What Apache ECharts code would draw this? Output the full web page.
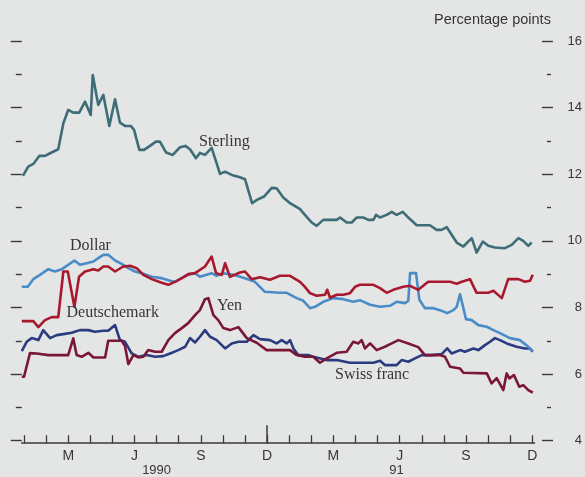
<!DOCTYPE html>
<html><head><meta charset="utf-8">
<script src="https://cdn.jsdelivr.net/npm/echarts@6/dist/echarts.min.js"></script>
<style>html,body{margin:0;padding:0;background:#e4e6e5;}#c{width:585px;height:477px;}</style>
</head><body><div id="c"></div>
<script>
// x values are months since Jan 1990 (0 = Jan 1990, 23 = Dec 1991)
const monthTicks = [0,1,2,3,4,5,6,7,8,9,10,11,12,13,14,15,16,17,18,19,20,21,22,23];
const monthLabels = ['M','J','S','D','M','J','S','D'];
const monthLabelPos = [2,5,8,11,14,17,20,23];
const yearLabels = ['1990','91'];
const yearLabelPos = [6.0,16.86];
const yTickLabels = [4,6,8,10,12,14,16];

const sterlingX = [-0.05,0.19,0.42,0.69,0.95,1.18,1.55,1.78,2.00,2.23,2.50,2.76,3.02,3.11,3.36,3.59,3.86,4.12,4.34,4.57,4.83,4.98,5.22,5.43,5.70,5.97,6.15,6.43,6.73,7.06,7.30,7.51,7.78,7.96,8.19,8.49,8.87,9.10,9.40,9.77,10.00,10.32,10.54,10.86,11.21,11.43,11.73,12.04,12.49,12.71,13.02,13.24,13.54,14.15,14.30,14.60,14.83,15.05,15.35,15.58,15.81,15.93,16.11,16.41,16.64,16.86,17.14,17.39,17.77,18.37,18.67,18.90,19.13,19.58,19.88,20.26,20.48,20.76,21.01,21.31,21.76,22.07,22.37,22.59,22.82,22.97];
const sterlingY = [11.95,12.23,12.31,12.55,12.55,12.63,12.75,13.53,13.93,13.85,13.85,14.18,13.78,14.98,14.08,14.38,13.45,14.25,13.55,13.45,13.45,13.33,12.73,12.73,12.85,12.98,12.98,12.65,12.58,12.81,12.85,12.75,12.48,12.64,12.58,12.79,12.01,12.08,11.98,11.91,11.85,11.13,11.23,11.33,11.59,11.58,11.30,11.13,10.95,10.78,10.55,10.45,10.63,10.63,10.70,10.55,10.55,10.70,10.70,10.63,10.63,10.78,10.70,10.78,10.87,10.78,10.87,10.70,10.47,10.47,10.33,10.33,10.41,9.95,9.83,10.08,9.65,9.98,9.85,9.80,9.78,9.88,10.08,10.00,9.85,9.95];

const dollarX = [-0.1,0.17,0.42,0.72,1.10,1.40,1.71,2.00,2.28,2.53,2.84,3.14,3.36,3.59,3.81,4.12,4.42,4.72,5.02,5.40,5.78,6.23,6.61,6.83,7.14,7.43,7.74,7.96,8.49,8.72,9.02,9.47,10.0,10.45,10.90,11.58,11.89,12.34,12.64,12.94,13.17,13.54,14.0,14.45,14.90,15.20,15.66,16.11,16.56,16.86,17.24,17.39,17.47,17.74,17.89,18.14,18.52,18.82,19.15,19.43,19.58,19.73,20.0,20.26,20.56,20.94,21.24,21.54,21.99,22.44,22.67,22.90,23.0];
const dollarY = [8.62,8.62,8.85,8.98,9.15,9.08,9.15,9.28,9.41,9.28,9.33,9.38,9.48,9.58,9.58,9.41,9.31,9.18,9.08,9.01,8.92,8.88,8.80,8.77,8.88,8.98,9.03,8.92,9.03,8.95,9.03,8.98,8.88,8.77,8.47,8.44,8.44,8.28,8.20,7.98,8.02,8.17,8.28,8.25,8.17,8.22,8.08,8.02,8.05,8.17,8.13,8.20,9.03,9.03,8.23,7.98,7.98,7.92,7.83,7.92,8.02,8.40,7.65,7.62,7.47,7.42,7.32,7.23,7.08,7.02,6.90,6.77,6.67];

const dmarkX = [-0.1,0.42,0.65,0.95,1.25,1.55,1.78,1.98,2.28,2.49,2.76,3.14,3.36,3.59,3.81,4.12,4.49,4.80,5.10,5.40,5.78,6.23,6.53,6.83,7.14,7.43,7.74,8.19,8.49,8.69,8.95,9.10,9.32,9.77,10.0,10.30,10.68,11.13,11.58,12.04,12.49,12.71,12.94,13.24,13.62,13.72,13.85,14.15,14.45,14.75,14.98,15.20,15.81,16.11,16.41,16.71,17.16,17.47,17.84,18.29,18.82,19.28,19.58,19.81,20.18,20.48,21.01,21.24,21.62,21.91,22.37,22.67,22.90,23.02];
const dmarkY = [7.59,7.59,7.41,7.62,7.71,7.71,9.08,9.08,8.02,8.92,9.08,9.15,9.11,9.23,9.23,9.08,9.23,9.25,9.18,8.98,8.85,8.74,8.68,8.77,8.88,9.0,9.03,9.23,9.53,9.03,8.98,9.33,8.92,9.05,9.08,8.85,8.91,8.83,8.95,8.95,8.77,8.62,8.43,8.35,8.38,8.53,8.29,8.38,8.38,8.43,8.62,8.68,8.68,8.58,8.44,8.53,8.62,8.65,8.53,8.77,8.77,8.77,8.71,8.77,8.85,8.44,8.44,8.50,8.28,8.85,8.85,8.77,8.80,8.98];

const yenX = [-0.1,0.0,0.27,0.57,1.10,2.00,2.23,2.38,2.61,2.91,3.14,3.67,3.81,4.42,4.57,4.72,4.95,5.17,5.40,5.62,5.93,6.23,6.53,6.83,7.14,7.43,7.74,7.96,8.19,8.34,8.57,8.79,9.02,9.32,9.70,10.08,10.53,10.98,11.58,12.04,12.34,12.71,13.09,13.39,13.70,14.15,14.60,14.90,15.13,15.28,15.43,15.66,15.96,16.33,16.64,16.94,17.39,17.84,18.14,18.82,19.05,19.28,19.73,19.88,20.94,21.16,21.39,21.69,21.84,21.96,22.17,22.41,22.59,22.82,23.02];
const yenY = [5.92,5.92,6.63,6.62,6.57,6.57,7.07,6.57,6.52,6.64,6.50,6.50,7.0,7.0,6.84,6.30,6.57,6.50,6.52,6.72,6.67,6.67,7.02,7.23,7.38,7.53,7.77,7.92,8.25,8.28,7.77,7.62,7.38,7.32,7.41,7.08,6.94,6.72,6.72,6.72,6.57,6.52,6.52,6.34,6.47,6.64,6.67,6.97,6.92,7.02,6.77,6.92,6.72,6.82,6.92,7.02,6.92,6.81,6.57,6.57,6.52,6.22,6.17,6.04,6.02,5.72,5.88,5.52,6.02,5.87,5.97,5.62,5.67,5.52,5.44];

const swissX = [-0.1,0.12,0.35,0.65,0.87,1.18,1.48,1.78,2.16,2.53,2.91,3.21,3.59,3.81,4.12,4.34,4.57,4.87,5.17,5.55,5.93,6.30,6.61,6.98,7.29,7.51,7.74,7.96,8.19,8.42,8.72,9.10,9.40,9.70,10.08,10.38,10.68,11.13,11.43,11.66,11.89,12.04,12.19,12.41,12.86,13.09,13.70,14.15,14.75,15.81,16.11,16.33,16.86,17.09,17.39,17.69,18.0,18.45,18.90,19.15,19.35,19.73,19.95,20.33,20.56,20.86,21.09,21.31,21.54,21.84,22.29,22.67,22.90,23.02];
const swissY = [6.69,6.97,7.08,7.02,7.32,7.08,7.17,7.20,7.24,7.32,7.32,7.27,7.30,7.30,7.47,7.02,6.97,6.62,6.52,6.57,6.52,6.54,6.62,6.72,6.82,7.08,6.95,7.12,7.32,7.12,7.02,6.77,6.92,6.97,6.97,7.17,7.05,7.02,6.92,7.02,6.92,7.02,6.77,6.57,6.57,6.52,6.42,6.42,6.34,6.34,6.40,6.27,6.27,6.42,6.37,6.47,6.57,6.57,6.60,6.77,6.62,6.72,6.67,6.77,6.72,6.87,6.97,7.08,7.02,6.92,6.82,6.77,6.77,6.67];

function pairs(xs, ys) {
  const n = Math.min(xs.length, ys.length), out = [];
  for (let i = 0; i < n; i++) out.push([xs[i], ys[i]]);
  return out;
}

const TXT = '#353535';
const SANS = 'Liberation Sans';
const oddTicks = [5,7,9,11,13,15];

const chart = echarts.init(document.getElementById('c'), null, {renderer: 'canvas'});

function lineSeries(name, xs, ys, color, z) {
  return {
    name: name, type: 'line', xAxisIndex: 0, yAxisIndex: 0,
    data: pairs(xs, ys), showSymbol: false, symbol: 'none',
    lineStyle: {color: color, width: 2.6, join: 'round'},
    itemStyle: {color: color}, z: z, silent: true
  };
}

chart.setOption({
  animation: false,
  backgroundColor: '#e4e6e5',
  grid: {left: 21.8, right: 50.5, top: 41, bottom: 36.3, containLabel: false, outerBoundsMode: 'none'},
  xAxis: [
    {
      type: 'value', min: -0.1, max: 23.1, position: 'bottom', offset: 2.5,
      axisLine: {show: true, onZero: false, lineStyle: {color: '#3a3a3a', width: 1.6}},
      axisTick: {show: true, customValues: monthTicks, inside: true, length: 8, lineStyle: {color: '#3a3a3a', width: 1.3}},
      axisLabel: {show: true, customValues: monthLabelPos, margin: 6, color: TXT, fontFamily: SANS, fontSize: 14,
        formatter: function (v) { const i = monthLabelPos.indexOf(v); return i >= 0 ? monthLabels[i] : ''; }},
      splitLine: {show: false}
    },
    {
      type: 'value', min: -0.1, max: 23.1, position: 'bottom', offset: 2.5,
      axisLine: {show: false, onZero: false},
      axisTick: {show: true, customValues: [11], inside: true, length: 18, lineStyle: {color: '#3a3a3a', width: 1.5}},
      axisLabel: {show: true, customValues: yearLabelPos, margin: 21, color: TXT, fontFamily: SANS, fontSize: 13,
        formatter: function (v) { const i = yearLabelPos.indexOf(v); return i >= 0 ? yearLabels[i] : ''; }},
      splitLine: {show: false}
    }
  ],
  yAxis: [
    {
      type: 'value', min: 4, max: 16, interval: 2, position: 'left',
      axisLine: {show: false, onZero: false},
      axisTick: {show: true, length: 11, lineStyle: {color: '#3a3a3a', width: 1.4}},
      minorTick: {show: true, splitNumber: 2, length: 6, lineStyle: {color: '#3a3a3a', width: 1.4}},
      axisLabel: {show: false},
      splitLine: {show: false}, minorSplitLine: {show: false}
    },
    {
      type: 'value', min: 4, max: 16, interval: 2, position: 'right', offset: 7.5,
      axisLine: {show: false, onZero: false},
      axisTick: {show: true, length: 11, lineStyle: {color: '#3a3a3a', width: 1.4}},
      axisLabel: {show: true, margin: 40, align: 'right', color: TXT, fontFamily: SANS, fontSize: 13,
        formatter: function (v) { return yTickLabels.indexOf(v) >= 0 ? String(v) : ''; }},
      splitLine: {show: false}
    },
    {
      type: 'value', min: 4, max: 16, position: 'right', offset: 12.5,
      axisLine: {show: false, onZero: false},
      axisTick: {show: true, customValues: oddTicks, length: 4, lineStyle: {color: '#3a3a3a', width: 1.4}},
      axisLabel: {show: false},
      splitLine: {show: false}
    }
  ],
  series: [
    lineSeries('Sterling', sterlingX, sterlingY, '#3e6d78', 5),
    lineSeries('Dollar', dollarX, dollarY, '#4a8cc7', 4),
    lineSeries('Deutschemark', dmarkX, dmarkY, '#a8192e', 6),
    lineSeries('Swiss franc', swissX, swissY, '#2b3b7f', 3),
    lineSeries('Yen', yenX, yenY, '#7a1739', 7)
  ],
  graphic: [
    {type: 'text', left: 434, top: 12, style: {text: 'Percentage points', font: '14.5px "Liberation Sans"', fill: TXT}},
    {type: 'text', x: 199, y: 142, style: {text: 'Sterling', font: '16px "Liberation Serif"', fill: TXT, textVerticalAlign: 'middle'}, z: 100},
    {type: 'text', x: 70, y: 246, style: {text: 'Dollar', font: '16px "Liberation Serif"', fill: TXT, textVerticalAlign: 'middle'}, z: 100},
    {type: 'text', x: 66.5, y: 313, style: {text: 'Deutschemark', font: '16px "Liberation Serif"', fill: TXT, textVerticalAlign: 'middle'}, z: 100},
    {type: 'text', x: 217, y: 306, style: {text: 'Yen', font: '16px "Liberation Serif"', fill: TXT, textVerticalAlign: 'middle'}, z: 100},
    {type: 'text', x: 335, y: 375, style: {text: 'Swiss franc', font: '16px "Liberation Serif"', fill: TXT, textVerticalAlign: 'middle'}, z: 100}
  ]
});
</script>
</body></html>
